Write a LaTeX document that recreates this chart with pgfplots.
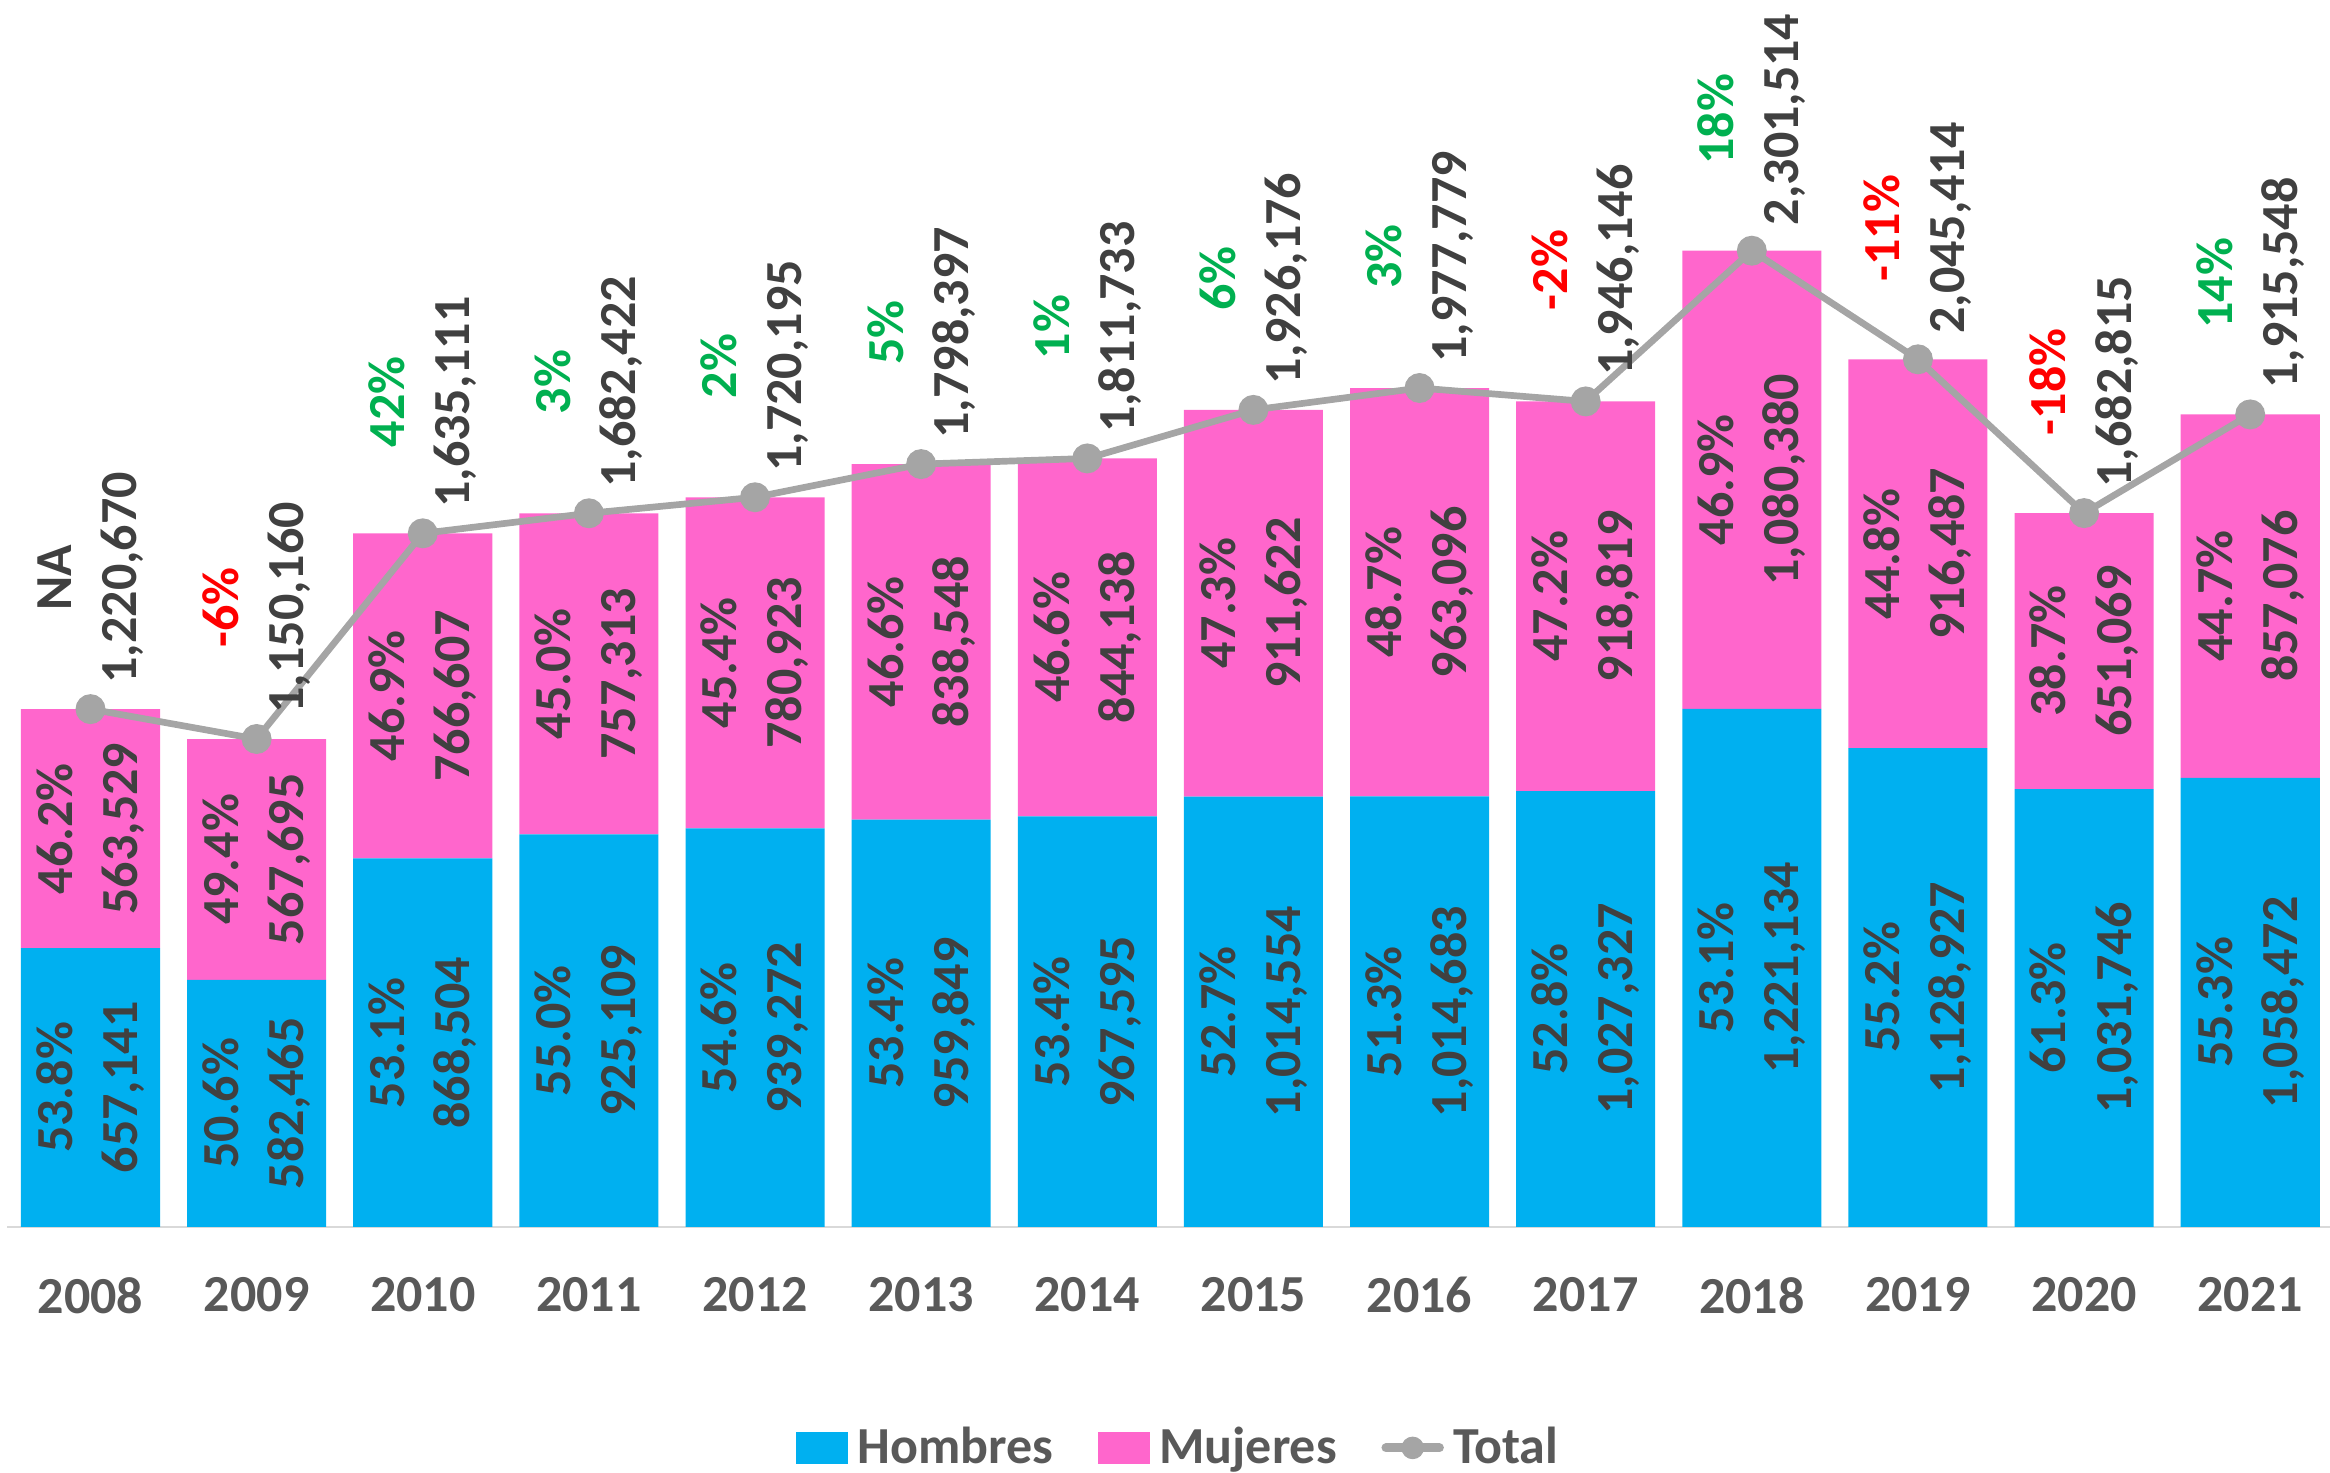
\documentclass[border=0pt]{standalone}
\usepackage{fontspec}
\setmainfont{Carlito}
\usepackage{pgfplots}
\usepackage{pgfplotstable}
\pgfplotsset{compat=1.18}
\definecolor{hcol}{HTML}{00B0F0}
\definecolor{mcol}{HTML}{FF66CC}
\definecolor{tcol}{HTML}{A5A5A5}
\definecolor{lab}{HTML}{404040}
\definecolor{tickc}{HTML}{595959}
\definecolor{pos}{HTML}{00B050}
\definecolor{neg}{HTML}{FF0000}
\definecolor{axl}{HTML}{D9D9D9}
\newcommand\lbl{\fontsize{17.5bp}{21.9bp}\selectfont\bfseries}
\newcommand\nl{\\}

\pgfplotstableread{
x year H M T lh lm lt
0 2008 657141 563529 1220670 {53.8\%\nl 657,141} {46.2\%\nl 563,529} {NA\nl 1,220,670}
1 2009 582465 567695 1150160 {50.6\%\nl 582,465} {49.4\%\nl 567,695} {\textcolor{neg}{-6\%}\nl 1,150,160}
2 2010 868504 766607 1635111 {53.1\%\nl 868,504} {46.9\%\nl 766,607} {\textcolor{pos}{42\%}\nl 1,635,111}
3 2011 925109 757313 1682422 {55.0\%\nl 925,109} {45.0\%\nl 757,313} {\textcolor{pos}{3\%}\nl 1,682,422}
4 2012 939272 780923 1720195 {54.6\%\nl 939,272} {45.4\%\nl 780,923} {\textcolor{pos}{2\%}\nl 1,720,195}
5 2013 959849 838548 1798397 {53.4\%\nl 959,849} {46.6\%\nl 838,548} {\textcolor{pos}{5\%}\nl 1,798,397}
6 2014 967595 844138 1811733 {53.4\%\nl 967,595} {46.6\%\nl 844,138} {\textcolor{pos}{1\%}\nl 1,811,733}
7 2015 1014554 911622 1926176 {52.7\%\nl 1,014,554} {47.3\%\nl 911,622} {\textcolor{pos}{6\%}\nl 1,926,176}
8 2016 1014683 963096 1977779 {51.3\%\nl 1,014,683} {48.7\%\nl 963,096} {\textcolor{pos}{3\%}\nl 1,977,779}
9 2017 1027327 918819 1946146 {52.8\%\nl 1,027,327} {47.2\%\nl 918,819} {\textcolor{neg}{-2\%}\nl 1,946,146}
10 2018 1221134 1080380 2301514 {53.1\%\nl 1,221,134} {46.9\%\nl 1,080,380} {\textcolor{pos}{18\%}\nl 2,301,514}
11 2019 1128927 916487 2045414 {55.2\%\nl 1,128,927} {44.8\%\nl 916,487} {\textcolor{neg}{-11\%}\nl 2,045,414}
12 2020 1031746 651069 1682815 {61.3\%\nl 1,031,746} {38.7\%\nl 651,069} {\textcolor{neg}{-18\%}\nl 1,682,815}
13 2021 1058472 857076 1915548 {55.3\%\nl 1,058,472} {44.7\%\nl 857,076} {\textcolor{pos}{14\%}\nl 1,915,548}
}\data

\pgfplotsset{common/.style={
  at={(2.5bp,82.5bp)}, anchor=south west, scale only axis,
  width=782.6bp, height=412.8bp,
  xmin=-0.5, xmax=13.5, ymin=0, ymax=2892700, clip=false,
}}

\begin{document}
\begin{tikzpicture}
\begin{axis}[common,
  ybar stacked, bar width=0.837,
  hide y axis, axis x line*=bottom,
  x axis line style={draw=axl, line width=0.75bp, -},
  xtick={0,...,13},
  xticklabels={2008,2009,2010,2011,2012,2013,2014,2015,2016,2017,2018,2019,2020,2021},
  xtick style={draw=none}, major tick length=0pt,
  xticklabel style={font=\lbl, text=tickc, inner sep=0pt, anchor=north, yshift=-16.8bp},
  legend columns=3, legend cell align=left,
  legend style={at={(0.503,-0.1802)}, anchor=center, draw=none, fill=none,
    font=\lbl, text=tickc,
    nodes={inner xsep=0pt, inner ysep=0pt, text height=14bp, text depth=3.5bp, text=tickc},
    /tikz/every even column/.append style={column sep=15bp},
    /tikz/every odd column/.append style={column sep=3.1bp},
    /tikz/column 4/.append style={column sep=12bp},
    /tikz/column 5/.append style={column sep=1.5bp}},
]
\addplot[fill=hcol, draw=none,
  legend image code/.code={\fill[hcol] (0bp,-5.25bp) rectangle (17.5bp,5.25bp);}]
  table[x=x, y=H]{\data};
\addlegendentry{Hombres}
\addplot[fill=mcol, draw=none,
  legend image code/.code={\fill[mcol] (0bp,-5.25bp) rectangle (17.5bp,5.25bp);}]
  table[x=x, y=M]{\data};
\addlegendentry{Mujeres}
\addlegendimage{legend image code/.code={\draw[tcol, line width=3bp, line cap=round] (0bp,0bp) -- (18bp,0bp); \fill[tcol] (9bp,0bp) circle (3.6bp);}}
\addlegendentry{Total}
\end{axis}

\begin{axis}[common, hide axis]
\addplot[tcol, line width=2.25bp, mark=*, mark size=3.9bp,
  mark options={fill=tcol, draw=none},
  point meta=explicit symbolic,
  nodes near coords,
  every node near coord/.append style={rotate=90, anchor=west, xshift=7.5bp,
    align=center, inner sep=0pt, font=\lbl, text=lab}]
  table[x=x, y=T, meta=lt]{\data};

\addplot[draw=none, mark=none,
  point meta=explicit symbolic,
  nodes near coords,
  every node near coord/.append style={rotate=90, anchor=center,
    align=center, inner sep=0pt, font=\lbl, text=lab}]
  table[x=x, y expr=\thisrow{H}/2, meta=lh]{\data};

\addplot[draw=none, mark=none,
  point meta=explicit symbolic,
  nodes near coords,
  every node near coord/.append style={rotate=90, anchor=center,
    align=center, inner sep=0pt, font=\lbl, text=lab}]
  table[x=x, y expr=\thisrow{H}+\thisrow{M}/2, meta=lm]{\data};
\end{axis}
\pgfresetboundingbox
\useasboundingbox (0,0) rectangle (784bp,495.3bp);
\end{tikzpicture}
\end{document}
